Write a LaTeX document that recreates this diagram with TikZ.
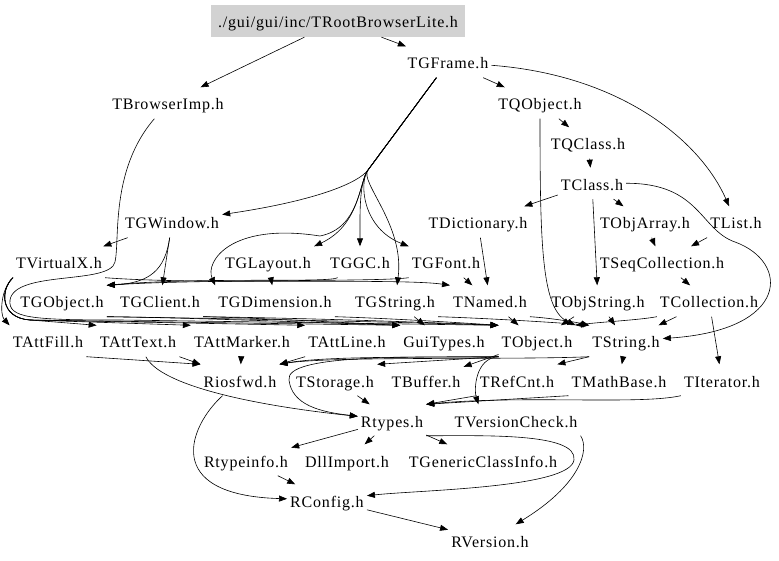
\documentclass[tikz,border=0pt]{standalone}
\usepackage{tikz}
\usepackage{fontspec}
\setmainfont{Liberation Serif}[LetterSpace=5]
\usetikzlibrary{positioning, arrows.meta}
\tikzset{flecha/.style={line width=0.6pt,-{Triangle[length=8pt,width=6pt]}}}
\tikzset{raiz/.style={fill=gray!35,inner xsep=7pt,minimum height=32pt}}

\begin{document}
\begin{tikzpicture}[
                x = 1pt, y = -1pt,
                every node/.style={inner xsep=3pt,inner ysep=0pt,minimum height=31pt,text height=15pt,text depth=1pt,font=\fontsize{16}{19}\selectfont}
            ]
                \useasboundingbox (0,0) rectangle (779,561);

                \node[raiz](1) at (338,21) {./gui/gui/inc/TRootBrowserLite.h};
                \node[](2) at (448,62) {TGFrame.h};
                \node[](3) at (168,103) {TBrowserImp.h};
                \node[](4) at (540,103) {TQObject.h};
                \node[](5) at (588,143) {TQClass.h};
                \node[below= 9pt of 5, xshift=4pt] (6) {TClass.h};
                \node[](7) at (172,222) {TGWindow.h};
                \node[](8) at (478,222) {TDictionary.h};
                \node[](9) at (645,222) {TObjArray.h};
                \node[](10) at (736,222) {TList.h};
                \node[](11) at (59,262) {TVirtualX.h};
                \node[](12) at (268,262) {TGLayout.h};
                \node[](13) at (360,262) {TGGC.h};
                \node[](14) at (446,262) {TGFont.h};
                \node[](15) at (662,262) {TSeqCollection.h};
                \node[](16) at (62,301) {TGObject.h};
                \node[](17) at (160,301) {TGClient.h};
                \node[](18) at (275,301) {TGDimension.h};
                \node[](19) at (395,301) {TGString.h};
                \node[](20) at (490,301) {TNamed.h};
                \node[](21) at (598,301) {TObjString.h};
                \node[](22) at (709,301) {TCollection.h};
                \node[](23) at (48,341) {TAttFill.h};
                \node[](24) at (138,341) {TAttText.h};
                \node[](25) at (242,341) {TAttMarker.h};
                \node[](26) at (347,341) {TAttLine.h};
                \node[](27) at (444,341) {GuiTypes.h};
                \node[](28) at (537,341) {TObject.h};
                \node[](29) at (626,341) {TString.h};
                \node[](30) at (240,380) {Riosfwd.h};
                \node[](31) at (335,380) {TStorage.h};
                \node[](32) at (426,380) {TBuffer.h};
                \node[](33) at (517,380) {TRefCnt.h};
                \node[](34) at (619,380) {TMathBase.h};
                \node[](35) at (722,380) {TIterator.h};
                \node[](36) at (392,420) {Rtypes.h};
                \node[](37) at (516,420) {TVersionCheck.h};
                \node[](38) at (246,460) {Rtypeinfo.h};
                \node[](39) at (347,460) {DllImport.h};
                \node[](40) at (483,460) {TGenericClassInfo.h};
                \node[](41) at (327,500) {RConfig.h};
                \node[](42) at (490,540) {RVersion.h};

                \draw[flecha] (1) -- (3);
                \draw[flecha] (1) -- (2);
                \draw[flecha] (2) -- (4);
                \draw[flecha] (4) -- (5);
                \draw[flecha] (5) -- (6);
                \draw[flecha] (6) -- (8);
                \draw[flecha] (6) -- (9);
                \draw[flecha] (6) -- (21);
                \draw[flecha] (2) .. controls (620,75) and (700,140) .. (10);
                \draw[flecha] (2) -- (368,170) .. controls (359,182) and (320,200) .. (7);
                \draw[flecha] (2) -- (368,170) .. controls (359,182) and (360,225) .. (12.north east);
                \draw[flecha] (2) -- (368,170) .. controls (359,182) and (360,215) .. (13);
                \draw[flecha] (2) -- (368,170) .. controls (359,182) and (362,228) .. (14.north west);
                \draw[flecha] (2) -- (368,170) .. controls (359,182) and (405,225) .. (19);
                \draw[flecha] (2) -- (368,170) .. controls (359,182) and (360,228) .. (320,236) .. controls (230,222) and (205,262) .. (18.north west);
                \draw[flecha] (6) .. controls (700,183) and (700,230) .. (735,242) .. controls (790,262) and (790,330) .. (29);
                \draw[flecha] (4) .. controls (540,250) and (542,310) .. (28.north east);
                \draw[flecha] (8) -- (20);
                \draw[flecha] (9) -- (15);
                \draw[flecha] (10) -- (15);
                \draw[flecha] (15) -- (22);
                \draw[flecha] (22) -- (35);

                \draw[flecha] (7) -- (11);
                \draw[flecha] (7) -- (17);
                \draw[flecha] (7) .. controls (165,270) and (150,283) .. (16.north east);
                \draw[flecha] (12) -- (18);
                \draw[flecha] (13) .. controls (330,283) and (200,277) .. (16.north east);
                \draw[flecha] (14.south west) .. controls (380,282) and (200,279) .. (16.north east);
                \draw[flecha] (14) -- (20);
                \draw[flecha] (11.south east) .. controls (200,285) and (400,278) .. (20.north west);
                \draw[flecha] (3) .. controls (110,170) and (120,240) .. (115,262) .. controls (110,285) and (15,270) .. (10,300) .. controls (8,318) and (30,320) .. (120,320) -- (28.north west);

                \draw[flecha] (11.south west) .. controls (0,290) and (0,315) .. (23.north west);
                \draw[flecha] (11.south west) .. controls (0,290) and (0,318) .. (30,320) -- (24.north west);
                \draw[flecha] (11.south west) .. controls (0,290) and (0,318) .. (30,320) -- (25.north west);
                \draw[flecha] (11.south west) .. controls (0,290) and (0,318) .. (30,320) -- (26.north west);
                \draw[flecha] (11.south west) .. controls (0,290) and (0,318) .. (30,320) -- (27.north west);
                \draw[flecha] (16.south east) .. controls (200,318) and (300,322) .. (27.north west);
                \draw[flecha] (16.south east) .. controls (200,318) and (400,322) .. (28.north west);
                \draw[flecha] (17.south east) .. controls (260,318) and (330,322) .. (27.north west);
                \draw[flecha] (17.south east) .. controls (300,318) and (420,322) .. (28.north west);
                \draw[flecha] (18.south east) .. controls (380,318) and (450,322) .. (28.north west);
                \draw[flecha] (19) -- (27);
                \draw[flecha] (19.south east) .. controls (480,318) and (550,322) .. (29.north west);
                \draw[flecha] (20) -- (28);
                \draw[flecha] (20.south east) .. controls (550,318) and (575,322) .. (29.north west);
                \draw[flecha] (21) -- (28);
                \draw[flecha] (21) -- (29);
                \draw[flecha] (22) -- (29);
                \draw[flecha] (22.south west) .. controls (640,320) and (600,322) .. (28.north east);

                \draw[flecha] (28.south west) -- (31.north east);
                \draw[flecha] (28) -- (32);
                \draw[flecha] (28.south west) .. controls (450,358) and (330,355) .. (30.north east);
                \draw[flecha] (29.south west) .. controls (520,360) and (330,356) .. (30.north east);
                \draw[flecha] (28.south west) .. controls (400,357) and (285,355) .. (289,380) .. controls (292,405) and (320,412) .. (36);
                \draw[flecha] (28.south west) .. controls (475,358) and (474,390) .. ([xshift=27pt]37.north west);
                \draw[flecha] (29.south west) -- (33.north east);
                \draw[flecha] (29) -- (34);
                \draw[flecha] (23.south east) -- (30.north west);
                \draw[flecha] (24.south east) -- (30.north west);
                \draw[flecha] (25) -- (30);
                \draw[flecha] (26.south west) -- (30.north east);
                \draw[flecha] (24) .. controls (160,385) and (250,405) .. (36);

                \draw[flecha] (31) -- (36);
                \draw[flecha] (33.south west) -- (36.north east);
                \draw[flecha] (34.south west) -- (36.north east);
                \draw[flecha] (35.south west) .. controls (640,405) and (520,395) .. (36.north east);
                \draw[flecha] (36) -- (38);
                \draw[flecha] (36) -- (39);
                \draw[flecha] (36) -- (40);
                \draw[flecha] (36.south east) .. controls (480,436) and (578,432) .. (574,460) .. controls (570,488) and (420,490) .. (41);
                \draw[flecha] (37.south east) .. controls (590,450) and (580,485) .. (42);
                \draw[flecha] (38) -- (41);
                \draw[flecha] (41) -- (42);
                \draw[flecha] (30) .. controls (190,425) and (160,495) .. (41);
            \end{tikzpicture}
\end{document}
